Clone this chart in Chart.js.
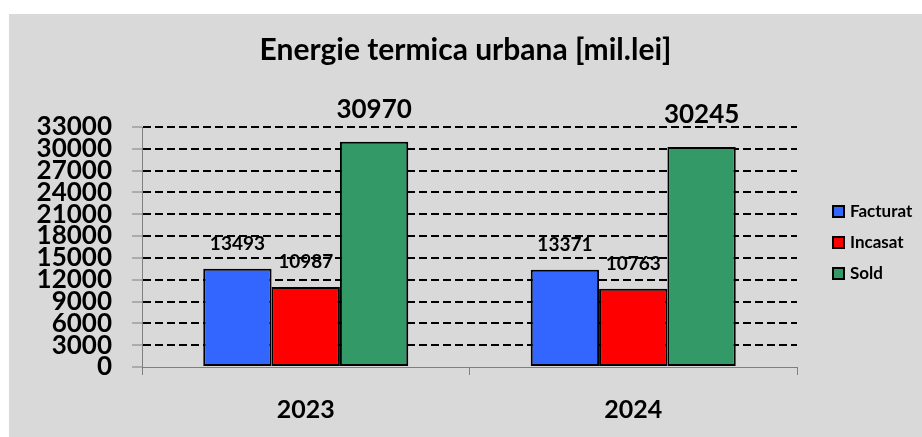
<!DOCTYPE html>
<html>
<head>
<meta charset="utf-8">
<script src="https://cdn.jsdelivr.net/npm/chart.js@4.4.1/dist/chart.umd.min.js"></script>
<style>
  body { margin: 0; background: #fff; }
  #box { position: absolute; left: 9px; top: 14px; width: 913px; height: 423px; background: #d9d9d9; }
</style>
</head>
<body>
<div id="box"><canvas id="c" width="913" height="423"></canvas></div>
<script>
const years = ['2023', '2024']
const facturat = [13493, 13371]
const incasat = [10987, 10763]
const sold = [30970, 30245]
const seriesNames = ['Facturat', 'Incasat', 'Sold']

const FONT = 'Lato, "Liberation Sans", sans-serif'

// value labels above each bar
const barLabels = {
  id: 'barLabels',
  afterDatasetsDraw (chart) {
    const ctx = chart.ctx
    ctx.save()
    ctx.fillStyle = '#000'
    ctx.textAlign = 'center'
    ctx.textBaseline = 'middle'
    chart.data.datasets.forEach((ds, i) => {
      const size = i === 2 ? 26 : 19
      ctx.font = 'bold ' + size + 'px ' + FONT
      chart.getDatasetMeta(i).data.forEach((bar, j) => {
        ctx.fillText(String(ds.data[j]), bar.x, bar.y - (i === 2 ? 32 : 25))
      })
    })
    ctx.restore()
  }
}

// legend on the right, drawn from the datasets
const sideLegend = {
  id: 'sideLegend',
  afterDraw (chart) {
    const ctx = chart.ctx
    const x = 824
    let y = 198
    ctx.save()
    ctx.font = 'bold 17px ' + FONT
    ctx.textBaseline = 'middle'
    chart.data.datasets.forEach(ds => {
      ctx.fillStyle = ds.backgroundColor
      ctx.fillRect(x, y - 6, 11, 11)
      ctx.lineWidth = 2
      ctx.strokeStyle = '#000'
      ctx.strokeRect(x, y - 6, 11, 11)
      ctx.fillStyle = '#000'
      ctx.fillText(ds.label, x + 17, y)
      y += 31
    })
    ctx.restore()
  }
}

const makeSet = (label, data, color) => ({
  label,
  data,
  backgroundColor: color,
  borderColor: '#000',
  borderWidth: 2,
  borderSkipped: false,
  categoryPercentage: 0.626,
  barPercentage: 1
})

new Chart(document.getElementById('c'), {
  type: 'bar',
  data: {
    labels: years,
    datasets: [
      makeSet(seriesNames[0], facturat, '#3366ff'),
      makeSet(seriesNames[1], incasat, '#ff0000'),
      makeSet(seriesNames[2], sold, '#339966')
    ]
  },
  options: {
    responsive: false,
    animation: false,
    layout: { padding: 0 },
    plugins: {
      legend: { display: false },
      tooltip: { enabled: false },
      title: {
        display: true,
        text: 'Energie termica urbana [mil.lei]',
        color: '#000',
        font: { family: FONT, size: 30, weight: 'bold', lineHeight: 1.2 },
        padding: { top: 18, bottom: 59 }
      }
    },
    scales: {
      x: {
        afterFit (scale) { scale.height = 70 },
        grid: {
          offset: true,
          drawOnChartArea: false,
          tickLength: 8,
          tickColor: '#7f7f7f',
          tickWidth: 1
        },
        border: { color: '#7f7f7f', width: 1 },
        ticks: {
          color: '#000',
          padding: 20,
          font: { family: FONT, size: 25, weight: 'bold' }
        }
      },
      y: {
        min: 0,
        max: 33000,
        afterFit (scale) { scale.width = 133 },
        grid: {
          color: c => (c.tick && c.tick.value === 0 ? 'rgba(0,0,0,0)' : '#000'),
          lineWidth: 2,
          tickLength: 10,
          tickColor: '#7f7f7f',
          tickWidth: 1,
          tickBorderDash: []
        },
        border: { color: '#7f7f7f', width: 1, dash: [8, 4] },
        ticks: {
          stepSize: 3000,
          autoSkip: false,
          color: '#000',
          padding: 20,
          callback: v => String(v),
          font: { family: FONT, size: 26, weight: 'bold', lineHeight: 0.9 }
        }
      },
      // empty axis that reserves room for the legend on the right
      side: {
        type: 'linear',
        position: 'right',
        afterFit (scale) { scale.width = 125 },
        grid: { display: false },
        border: { display: false },
        ticks: { display: false }
      }
    }
  },
  plugins: [barLabels, sideLegend]
})
</script>
</body>
</html>
